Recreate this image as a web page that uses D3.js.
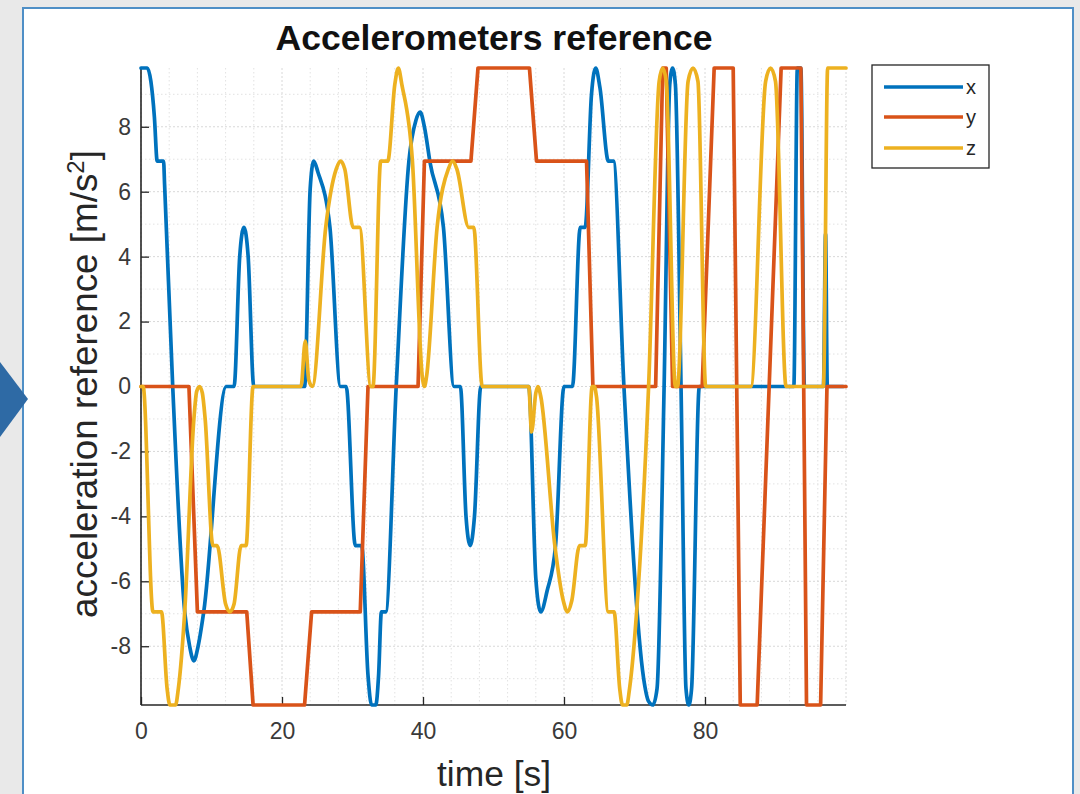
<!DOCTYPE html>
<html><head><meta charset="utf-8">
<script src="https://cdn.jsdelivr.net/npm/d3@7"></script>
<style>body{margin:0;background:#e9e9e9;} svg{display:block}</style>
</head><body>
<svg id="chart" width="1080" height="794"></svg>
<script>
const seriesNames = ["x", "y", "z"];
const seriesColors = ["#0072BD", "#D95319", "#EDB120"];
const xTicks = [0, 20, 40, 60, 80];
const yTicks = [-8, -6, -4, -2, 0, 2, 4, 6, 8];
const titleText = "Accelerometers reference";
const xLabelText = "time [s]";

// [time, value]
const xSeries = [
 [0,9.81],[0.9,9.81],[1.4,9.4],[1.9,8.3],[2.3,6.94],[3.2,6.94],[3.35,6.2],[4.5,0],[6.2,-6.94],[6.9,-8.0],[7.5,-8.45],[8.1,-8.0],[8.9,-6.94],
 [12.1,0],[13.2,0],[14.0,4.0],[14.6,4.9],[15.2,4.0],[16.0,0],
 [23.2,0],[24.0,6.1],[24.5,6.94],[25.1,6.6],[26.8,4.9],[28.3,0],[29.1,0],[30.4,-4.9],[31.3,-4.9],[32.2,-8.9],[32.7,-9.81],[33.3,-9.81],[33.7,-8.9],[34.1,-6.94],[34.7,-6.94],
 [36.2,0],[38.0,6.94],[39.0,8.2],[39.6,8.45],[40.2,8.0],[41.0,6.9],[42.9,4.9],[44.4,0],[45.3,0],[46.1,-4.0],[46.7,-4.9],[47.3,-4.0],[48.2,0],
 [55.0,0],[56.0,-5.9],[56.7,-6.94],[57.6,-6.3],[58.8,-4.9],[60.0,0],[61.2,0],[62.3,4.9],[63.0,4.9],[63.9,9.0],[64.5,9.81],[65.1,9.2],[66.3,6.94],[67.0,6.94],
 [68.5,0],[71.3,-9.0],[72.0,-9.7],[72.6,-9.81],[73.2,-9.3],[74.2,0],[75.0,9.3],[75.4,9.81],[75.8,9.3],[76.6,0],[77.3,-9.3],[77.7,-9.81],[78.1,-9.3],[79.2,0],
 [92.6,0],[93.1,9.81],[93.6,9.81],[94.1,0],[96.8,0],[97.1,4.7],[97.35,0],[99.6,0]
];
const ySeries = [
 [0,0],[6.8,0],[8.0,-6.94],[15.0,-6.94],[15.9,-9.81],[23.2,-9.81],[24.2,-6.94],[31.1,-6.94],[32.2,0],
 [39.3,0],[40.2,6.94],[46.8,6.94],[47.8,9.81],[55.1,9.81],[56.1,6.94],[63.2,6.94],[64.1,0],
 [73.0,0],[74.0,9.81],[74.5,9.81],[75.4,0],[79.6,0],[81.3,9.81],[84.0,9.81],[85.0,-9.81],[87.4,-9.81],[90.8,9.81],[93.6,9.81],[94.4,-9.81],[96.4,-9.81],[97.3,0],[100,0]
];
const zSeries = [
 [0,0],[0.3,0],[1.7,-6.94],[2.9,-6.94],[3.7,-9.3],[4.1,-9.81],[4.9,-9.81],[5.3,-9.3],[6.2,-6.94],[7.5,-1.0],[7.9,-0.15],[8.3,0],[8.7,-0.2],[9.1,-1.0],
 [10.2,-4.9],[10.8,-4.9],[12.0,-6.7],[12.6,-6.94],[13.2,-6.7],[14.2,-4.9],[14.9,-4.9],[15.9,0],
 [22.7,0],[23.3,1.4],[23.8,0.2],[24.3,0],[26.2,4.9],[27.7,6.7],[28.3,6.94],[28.9,6.7],[30.1,4.9],[31.0,4.9],[32.6,0],[32.9,0],
 [34.0,6.94],[35.0,6.94],[36.0,9.3],[36.5,9.81],[37.0,9.3],[38.5,6.94],[39.9,0.3],[40.2,0],[40.5,0.3],[42.0,4.9],[43.6,6.7],[44.2,6.94],[44.8,6.7],[46.5,4.9],[47.2,4.9],[48.4,0],
 [55.0,0],[55.4,-1.4],[56.0,-0.2],[56.3,0],[56.7,-0.3],[58.7,-4.9],[59.9,-6.6],[60.5,-6.94],[61.1,-6.6],[62.2,-4.9],[63.0,-4.9],[64.0,0],[64.3,0],[64.6,-0.3],
 [66.3,-6.94],[67.1,-6.94],[67.9,-9.3],[68.3,-9.81],[68.9,-9.81],[69.3,-9.3],[70.3,-6.94],[72.0,0],
 [73.5,9.4],[74.0,9.81],[74.5,9.4],[75.8,0],[76.1,0],[77.6,9.4],[78.3,9.81],[79.0,9.4],[80.1,0],
 [86.5,0],[88.6,9.4],[89.3,9.81],[90.0,9.4],[91.5,0],[96.8,0],[97.4,9.81],[100,9.81]
];
const allSeries = [xSeries, ySeries, zSeries];
const curves = [d3.curveMonotoneX, d3.curveLinear, d3.curveMonotoneX];

const svg = d3.select("#chart");
const W = 1080, H = 794;
const m = {left: 141, right: 846, top: 68, bottom: 705};

// page decoration
svg.append("rect").attr("x", 0).attr("y", 0).attr("width", W).attr("height", H).attr("fill", "#e9e9e9");
svg.append("rect").attr("x", 23).attr("y", 8).attr("width", 1050).attr("height", 800)
  .attr("fill", "#ffffff").attr("stroke", "#4f8fc6").attr("stroke-width", 2);
svg.append("path").attr("d", "M0,362 L28,399 L0,437 Z").attr("fill", "#2e6aa5");

const x = d3.scaleLinear().domain([0, 100]).range([m.left, m.right]);
const y = d3.scaleLinear().domain([-9.81, 9.81]).range([m.bottom, m.top]);

// grids
const g = svg.append("g");
const minorX = d3.range(4, 100, 4).filter(v => v % 20 !== 0);
const minorY = d3.range(-9, 10, 1).filter(v => v % 2 !== 0);
g.selectAll(".mx").data(minorX).join("line")
  .attr("x1", d => x(d)).attr("x2", d => x(d)).attr("y1", m.top).attr("y2", m.bottom)
  .attr("stroke", "#e2e2e2").attr("stroke-dasharray", "1.5,2.5").attr("stroke-width", 1);
g.selectAll(".my").data(minorY).join("line")
  .attr("y1", d => y(d)).attr("y2", d => y(d)).attr("x1", m.left).attr("x2", m.right)
  .attr("stroke", "#e2e2e2").attr("stroke-dasharray", "1.5,2.5").attr("stroke-width", 1);
g.selectAll(".Mx").data(xTicks.concat([100])).join("line")
  .attr("x1", d => x(d)).attr("x2", d => x(d)).attr("y1", m.top).attr("y2", m.bottom)
  .attr("stroke", "#d8d8d8").attr("stroke-dasharray", "2,2").attr("stroke-width", 1);
g.selectAll(".My").data(yTicks).join("line")
  .attr("y1", d => y(d)).attr("y2", d => y(d)).attr("x1", m.left).attr("x2", m.right)
  .attr("stroke", "#d8d8d8").attr("stroke-dasharray", "2,2").attr("stroke-width", 1);

// axes
const axisColor = "#262626";
const xAxis = d3.axisBottom(x).tickValues(xTicks).tickSize(-8).tickPadding(18).tickFormat(d3.format("d"));
const yAxis = d3.axisLeft(y).tickValues(yTicks).tickSize(-8).tickPadding(10).tickFormat(d => d < 0 ? "-" + Math.abs(d) : d);
const gx = svg.append("g").attr("transform", `translate(0,${m.bottom})`).call(xAxis);
const gy = svg.append("g").attr("transform", `translate(${m.left},0)`).call(yAxis);
[gx, gy].forEach(a => {
  a.select(".domain").attr("stroke", axisColor).attr("stroke-width", 1.6);
  a.selectAll(".tick line").attr("stroke", axisColor).attr("stroke-width", 1.3);
  a.selectAll(".tick text").attr("fill", "#3a3a3a").attr("font-family", "Liberation Sans, Arial, sans-serif").attr("font-size", 23);
});
gx.select(".domain").attr("d", `M${m.left},0H${m.right}`);
gy.select(".domain").attr("d", `M0,${m.bottom}V${m.top}`);

// lines
svg.append("g").selectAll("path").data(allSeries).join("path")
  .attr("d", (d, i) => d3.line().x(p => x(p[0])).y(p => y(p[1])).curve(curves[i])(d))
  .attr("fill", "none")
  .attr("stroke", (d, i) => seriesColors[i]).attr("stroke-width", 3.7)
  .attr("stroke-linejoin", "round").attr("stroke-linecap", "round");

function fit(sel, target) {
  const fs = parseFloat(sel.attr("font-size"));
  const w = sel.node().getComputedTextLength();
  sel.attr("font-size", fs * target / w);
}

// title
const title = svg.append("text").attr("x", 494).attr("y", 50).attr("text-anchor", "middle")
  .attr("font-family", "Liberation Sans, Arial, sans-serif").attr("font-weight", "bold")
  .attr("font-size", 30).attr("fill", "#111").text(titleText);
fit(title, 437);

// x label
const xl = svg.append("text").attr("x", 494).attr("y", 786).attr("text-anchor", "middle")
  .attr("font-family", "Liberation Sans, Arial, sans-serif").attr("font-size", 30).attr("fill", "#262626").text(xLabelText);
fit(xl, 114);

// y label
const yl = svg.append("text").attr("transform", "translate(97,384) rotate(-90)").attr("text-anchor", "middle")
  .attr("font-family", "Liberation Sans, Arial, sans-serif").attr("font-size", 30).attr("fill", "#262626");
yl.append("tspan").text("acceleration reference [m/s");
yl.append("tspan").attr("baseline-shift", "super").attr("font-size", "65%").text("2");
yl.append("tspan").text("]");
fit(yl, 468);

// legend
const lg = svg.append("g");
lg.append("rect").attr("x", 872).attr("y", 65).attr("width", 117).attr("height", 103)
  .attr("fill", "#fff").attr("stroke", "#262626").attr("stroke-width", 1.3);
const legY = [87, 117, 148];
seriesNames.forEach((n, i) => {
  lg.append("line").attr("x1", 884).attr("x2", 963).attr("y1", legY[i]).attr("y2", legY[i])
    .attr("stroke", seriesColors[i]).attr("stroke-width", 3.7);
  lg.append("text").attr("x", 966).attr("y", legY[i] + 7).attr("font-family", "Liberation Sans, Arial, sans-serif")
    .attr("font-size", 20).attr("fill", "#262626").text(n);
});
</script>
</body></html>
